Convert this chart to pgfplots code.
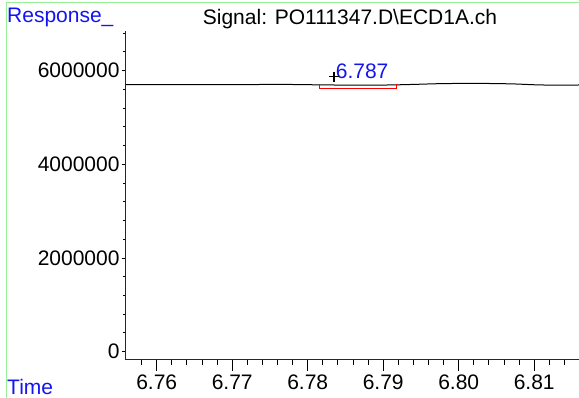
\documentclass[border=0pt]{standalone}
\usepackage{pgfplots}
\pgfplotsset{compat=1.18}
\usepackage{fontspec}
\setmainfont{Liberation Sans}
\definecolor{lblue}{RGB}{20,20,240}
\definecolor{lgreen}{RGB}{150,240,150}
\begin{document}
\fontsize{21}{25}\selectfont
\begin{tikzpicture}[x=1pt,y=1pt]
\useasboundingbox (0,0) rectangle (579,398);
\draw[lgreen, line width=1pt] (6,0) -- (6,395) -- (579,395);
\node[anchor=base west, text=lblue, inner sep=0pt] at (7,375.3) {Response\_};
\node[anchor=base west, inner sep=0pt] at (202.7,373.3) {Signal: PO111347.D\textbackslash ECD1A.ch};
\node[anchor=base west, text=lblue, inner sep=0pt] at (7,3) {Time};
\begin{axis}[
  at={(126pt,38pt)}, anchor=south west,
  scale only axis, width=453pt, height=329pt,
  xmin=6.75593, xmax=6.81593,
  ymin=-177000, ymax=6848000,
  axis lines=left,
  axis line style={-, black!85, line width=1pt},
  tick align=outside,
  tick style={black, line width=1pt},
  xtick={6.76,6.77,6.78,6.79,6.80,6.81},
  xticklabels={6.76,6.77,6.78,6.79,6.80,6.81},
  minor xtick={6.758,6.762,6.764,6.766,6.768,6.772,6.774,6.776,6.778,6.782,6.784,6.786,6.788,6.792,6.794,6.796,6.798,6.802,6.804,6.806,6.808,6.812,6.814},
  ytick={0,2000000,4000000,6000000},
  yticklabels={0,2000000,4000000,6000000},
  minor ytick={400000,800000,1200000,1600000,2400000,2800000,3200000,3600000,4400000,4800000,5200000,5600000,6400000,6800000},
  xtick style={/pgfplots/major tick length=11pt, /pgfplots/minor tick length=5pt},
  ytick style={/pgfplots/major tick length=4pt, /pgfplots/minor tick length=3pt},
  scaled ticks=false,
  /pgf/number format/assume math mode=true,
  ticklabel style={font=\fontsize{21}{25}\selectfont, text=black},
  xticklabel style={anchor=north, inner sep=0pt, yshift=-10pt},
  yticklabel style={anchor=east, inner sep=0pt, xshift=-2pt},
]
\addplot[black, line width=1pt, smooth] coordinates {
(6.7559,5705000) (6.7657,5703000) (6.7720,5704000) (6.7763,5708000) (6.7807,5700000)
(6.7856,5692000) (6.7900,5694000) (6.7922,5700000) (6.7950,5712000) (6.7971,5722000)
(6.8000,5728000) (6.8040,5727000) (6.8072,5718000) (6.8100,5700000) (6.8125,5692000)
(6.8159,5695000)};
\addplot[red, line width=1pt] coordinates {
(6.7815,5716000) (6.7815,5625000) (6.7917,5625000) (6.7917,5716000)};
\addplot[only marks, mark=+, mark size=5pt, mark options={black, line width=1.7pt}] coordinates {(6.7835,5876000)};
\node[anchor=base west, inner sep=0pt, text=lblue, font=\fontsize{21}{25}\selectfont] at (axis cs:6.7837,5844000) {6.787};
\end{axis}
\end{tikzpicture}
\end{document}
